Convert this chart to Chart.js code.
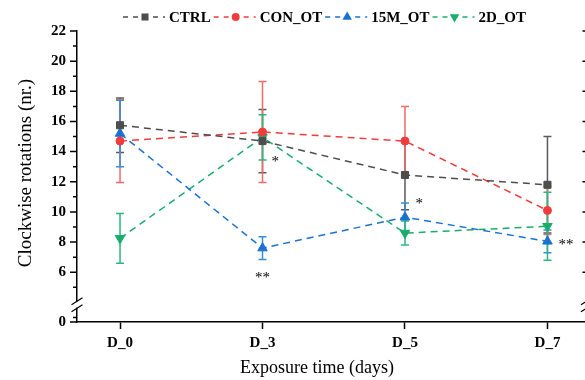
<!DOCTYPE html>
<html>
<head>
<meta charset="utf-8">
<script src="https://cdn.jsdelivr.net/npm/chart.js@4.4.1/dist/chart.umd.min.js"></script>
<style>
html,body{margin:0;padding:0;background:#fff;overflow:hidden;}
</style>
</head>
<body>
<canvas id="c" width="593" height="380"></canvas>
<script>
var categories = ["D_0","D_3","D_5","D_7"];
var seriesNames = ["CTRL","CON_OT","15M_OT","2D_OT"];

var ctrl    = [15.75, 14.7, 12.45, 11.8];
var ctrlErr = [1.8, 2.1, 2.3, 3.2];
var con     = [14.7, 15.3, 14.7, 10.1];
var conErr  = [2.75, 3.35, 2.3, 1.6];
var m15     = [15.2, 7.6, 9.65, 8.05];
var m15Err  = [2.2, 0.75, 0.95, 0.75];
var d2      = [8.25, 14.95, 8.6, 9.05];
var d2Err   = [1.65, 1.5, 0.8, 2.25];

var yMajor = [6,8,10,12,14,16,18,20,22];
var yMinor = [3,5,7,9,11,13,15,17,19,21];
var yBottom = 2.7;   // where "0" sits below the axis break
var yBreak = 3.85;

// significance marks: category index, value, text
var stars = [
  {x:1.09, y:13.6, t:"*"},
  {x:1.0,  y:5.9,  t:"**"},
  {x:2.1,  y:10.8, t:"*"},
  {x:3.13, y:8.05, t:"**"}
];

var SERIF = '"Liberation Serif","Times New Roman",serif';
Chart.defaults.font.family = SERIF;
Chart.defaults.color = "#000";

function pts(arr){ return arr.map(function(v,i){ return {x:i, y:v}; }); }

function mkSet(name, vals, errs, color, errColor, style, radius, rot){
  return {
    label:name, data:pts(vals), err:errs, errColor:errColor,
    borderColor:color, backgroundColor:color, borderWidth:1.5, borderDash:[7,5],
    pointStyle:style, pointRadius:radius, pointRotation:rot||0,
    pointBackgroundColor:color, pointBorderColor:color, pointBorderWidth:1,
    showLine:true, fill:false, tension:0, clip:false
  };
}

var datasets = [
  mkSet(seriesNames[0], ctrl, ctrlErr, "#4d4d4d", "#5a5a5a", "rect", 5),
  mkSet(seriesNames[1], con, conErr, "#f03c3c", "#ef6a6a", "circle", 4),
  mkSet(seriesNames[2], m15, m15Err, "#1a72d0", "#3a8cd6", "triangle", 5.5),
  mkSet(seriesNames[3], d2, d2Err, "#19ad6c", "#2bb67c", "triangle", 5.5, 180)
];

function drawMarker(ctx, ds, x, y){
  var r = ds.pointRadius;
  ctx.fillStyle = ds.borderColor;
  ctx.beginPath();
  if (ds.pointStyle === "rect") {
    var s = r/Math.SQRT2; ctx.rect(x-s, y-s, 2*s, 2*s);
  } else if (ds.pointStyle === "circle") {
    ctx.arc(x, y, r, 0, Math.PI*2);
  } else {
    var d = ds.pointRotation ? -1 : 1;
    ctx.moveTo(x, y - d*r);
    ctx.lineTo(x - r*0.866, y + d*r*0.5);
    ctx.lineTo(x + r*0.866, y + d*r*0.5);
    ctx.closePath();
  }
  ctx.fill();
}

var errorBars = {
  id:"errorBars",
  beforeDatasetsDraw: function(chart){
    var ctx = chart.ctx, xs = chart.scales.x, ys = chart.scales.y;
    chart.data.datasets.forEach(function(ds){
      ctx.save();
      ctx.strokeStyle = ds.errColor; ctx.lineWidth = 1.5;
      ds.err.forEach(function(e,i){
        var x = xs.getPixelForValue(i);
        var lo = ys.getPixelForValue(ds.data[i].y - e), hi = ys.getPixelForValue(ds.data[i].y + e);
        ctx.beginPath();
        ctx.moveTo(x, lo); ctx.lineTo(x, hi);
        ctx.moveTo(x-4, lo); ctx.lineTo(x+4, lo);
        ctx.moveTo(x-4, hi); ctx.lineTo(x+4, hi);
        ctx.stroke();
      });
      ctx.restore();
    });
  }
};

var extras = {
  id:"extras",
  afterDraw: function(chart){
    var ctx = chart.ctx, xs = chart.scales.x, ys = chart.scales.y, a = chart.chartArea;
    ctx.save();
    ctx.strokeStyle = "#000"; ctx.lineWidth = 1.5;
    // left ticks
    ctx.beginPath();
    [yBottom].concat(yMajor).forEach(function(v){ var y = ys.getPixelForValue(v); ctx.moveTo(a.left-7, y); ctx.lineTo(a.left, y); });
    yMinor.forEach(function(v){ var y = ys.getPixelForValue(v); ctx.moveTo(a.left-4, y); ctx.lineTo(a.left, y); });
    // right axis (mostly outside the picture)
    ctx.moveTo(a.right, a.top); ctx.lineTo(a.right, a.bottom);
    yMajor.forEach(function(v){ var y = ys.getPixelForValue(v); ctx.moveTo(a.right-4, y); ctx.lineTo(a.right, y); });
    ctx.stroke();
    // axis breaks
    var yb = ys.getPixelForValue(yBreak);
    [a.left, a.right].forEach(function(xa){
      ctx.fillStyle = "#fff";
      ctx.fillRect(xa-2, yb-3, 4, 6);
      ctx.beginPath();
      ctx.moveTo(xa-5.5, yb); ctx.lineTo(xa+5.5, yb-7);
      ctx.moveTo(xa-5.5, yb+7); ctx.lineTo(xa+5.5, yb);
      ctx.lineWidth = 1.2; ctx.stroke();
    });
    // significance marks
    ctx.fillStyle = "#000";
    ctx.font = "15px " + SERIF;
    ctx.textAlign = "center"; ctx.textBaseline = "alphabetic";
    stars.forEach(function(s){
      ctx.fillText(s.t, xs.getPixelForValue(s.x), ys.getPixelForValue(s.y) + 8);
    });
    // axis titles
    ctx.textBaseline = "middle";
    ctx.font = "18px " + SERIF;
    ctx.fillText("Exposure time (days)", 317, 368);
    ctx.save();
    ctx.font = "19px " + SERIF;
    ctx.translate(26, 173); ctx.rotate(-Math.PI/2);
    ctx.fillText("Clockwise rotations (nr.)", 0, 0);
    ctx.restore();
    // legend
    var lx = 123, ly = 17;
    ctx.font = "bold 15px " + SERIF;
    ctx.textAlign = "left";
    chart.data.datasets.forEach(function(ds){
      ctx.strokeStyle = ds.borderColor; ctx.lineWidth = 1.5;
      ctx.setLineDash([5,5]);
      ctx.beginPath(); ctx.moveTo(lx, ly); ctx.lineTo(lx+42, ly); ctx.stroke();
      ctx.setLineDash([]);
      drawMarker(ctx, ds, lx+22, ly);
      ctx.fillStyle = "#000";
      ctx.fillText(ds.label, lx+46, ly+1);
      lx = lx + 46 + ctx.measureText(ds.label).width + 3;
    });
    ctx.restore();
  }
};

new Chart(document.getElementById("c"), {
  type:"line",
  data:{ datasets:datasets },
  plugins:[errorBars, extras],
  options:{
    responsive:false, animation:false,
    layout:{ padding:{ left:0, right:0, top:31, bottom:0 } },
    plugins:{ legend:{display:false}, tooltip:{enabled:false} },
    scales:{
      x:{
        type:"linear", min:-0.302, max:3.274,
        afterBuildTicks: function(s){ s.ticks = categories.map(function(c,i){ return {value:i}; }); },
        afterFit: function(s){ s.height = 58; },
        ticks:{ callback:function(v){ return categories[v]; }, font:{size:15, weight:"bold"}, color:"#000", padding:5, maxRotation:0, autoSkip:false },
        grid:{ drawOnChartArea:false, tickLength:7, tickColor:"#000", tickWidth:1.5 },
        border:{ color:"#000", width:1.5 }
      },
      y:{
        min:yBottom, max:22,
        afterBuildTicks: function(s){ s.ticks = [yBottom].concat(yMajor).map(function(v){ return {value:v}; }); },
        afterFit: function(s){ s.width = 77; },
        ticks:{ callback:function(v){ return v < yMajor[0] ? "0" : v; }, font:{size:15, weight:"bold"}, color:"#000", padding:11, autoSkip:false },
        grid:{ drawOnChartArea:false, drawTicks:false },
        border:{ color:"#000", width:1.5 }
      }
    }
  }
});
</script>
</body>
</html>
